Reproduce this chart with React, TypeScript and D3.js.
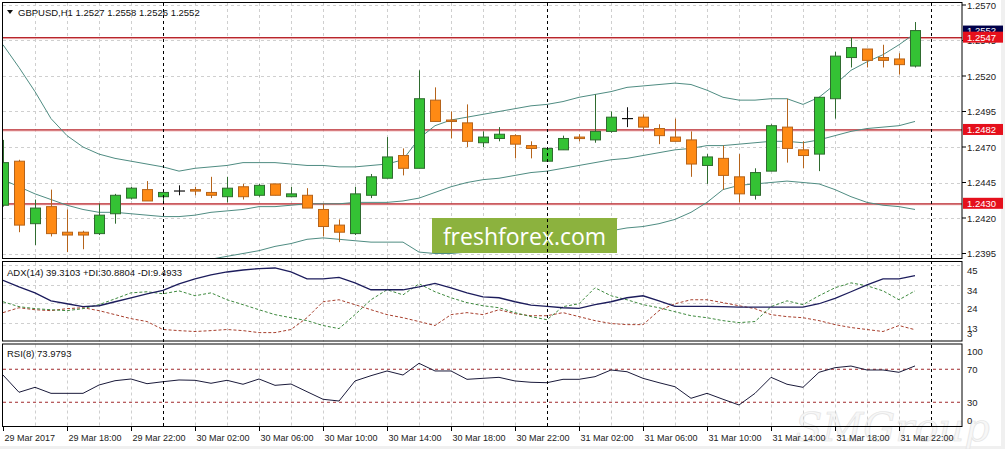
import React from 'react';
import * as d3 from 'd3';

// H1 bars, 29 Mar 2017 14:00 .. 31 Mar 2017 23:00
const opens = [
  1.2429, 1.2460, 1.2416, 1.2428, 1.2410, 1.2410, 1.2409, 1.2423, 1.2434, 1.2440,
  1.2435, 1.2439, 1.2440, 1.2438, 1.2435, 1.2442, 1.2436, 1.2444, 1.2435, 1.2436,
  1.2426, 1.2415, 1.2409, 1.2436, 1.2448, 1.2464, 1.2455, 1.2503, 1.2489, 1.2487,
  1.2473, 1.2476, 1.2478, 1.2471, 1.2460, 1.2468, 1.2477, 1.2475, 1.2481, 1.2490,
  1.2491, 1.2483, 1.2477, 1.2475, 1.2457, 1.2462, 1.2449, 1.2436, 1.2453, 1.2484,
  1.2468, 1.2465, 1.2504, 1.2533, 1.2539, 1.2533, 1.2532, 1.2527,
];
const highs = [
  1.2475, 1.2461, 1.2433, 1.2440, 1.2426, 1.2411, 1.2430, 1.2437, 1.2442, 1.2446,
  1.2438, 1.2443, 1.2442, 1.2449, 1.2449, 1.2444, 1.2444, 1.2444, 1.2442, 1.2441,
  1.2430, 1.2419, 1.2442, 1.2451, 1.2477, 1.2469, 1.2524, 1.2512, 1.2495, 1.2500,
  1.2481, 1.2484, 1.2479, 1.2474, 1.2469, 1.2478, 1.2479, 1.2507, 1.2495, 1.2498,
  1.2493, 1.2486, 1.2490, 1.2481, 1.2465, 1.2471, 1.2465, 1.2455, 1.2486, 1.2504,
  1.2474, 1.2505, 1.2537, 1.2547, 1.2539, 1.2542, 1.2536, 1.2558,
];
const lows = [
  1.2428, 1.2410, 1.2401, 1.2407, 1.2396, 1.2398, 1.2408, 1.2416, 1.2433, 1.2432,
  1.2430, 1.2436, 1.2436, 1.2434, 1.2431, 1.2433, 1.2435, 1.2436, 1.2435, 1.2427,
  1.2407, 1.2403, 1.2408, 1.2434, 1.2448, 1.2450, 1.2455, 1.2488, 1.2476, 1.2470,
  1.2470, 1.2474, 1.2462, 1.2462, 1.2460, 1.2468, 1.2474, 1.2473, 1.2480, 1.2484,
  1.2481, 1.2472, 1.2474, 1.2449, 1.2444, 1.2440, 1.2431, 1.2433, 1.2453, 1.2459,
  1.2455, 1.2453, 1.2490, 1.2526, 1.2526, 1.2526, 1.2521, 1.2526,
];
const closes = [
  1.2459, 1.2415, 1.2427, 1.2409, 1.2408, 1.2408, 1.2422, 1.2436, 1.2441, 1.2432,
  1.2438, 1.2439, 1.2439, 1.2436, 1.2441, 1.2435, 1.2443, 1.2436, 1.2437, 1.2427,
  1.2414, 1.2410, 1.2437, 1.2449, 1.2463, 1.2455, 1.2504, 1.2488, 1.2488, 1.2474,
  1.2477, 1.2479, 1.2472, 1.2469, 1.2469, 1.2476, 1.2476, 1.2481, 1.2491, 1.2490,
  1.2484, 1.2478, 1.2474, 1.2458, 1.2463, 1.2450, 1.2437, 1.2452, 1.2485, 1.2469,
  1.2464, 1.2505, 1.2534, 1.2540, 1.2531, 1.2531, 1.2528, 1.2552,
];

// Bollinger bands
const bbUpper = [
  1.2542, 1.2526, 1.2509, 1.2490, 1.2478, 1.2470, 1.2465, 1.2462, 1.2460, 1.2458,
  1.2456, 1.2453, 1.2455, 1.2456, 1.2457, 1.2459, 1.2459, 1.2459, 1.2458, 1.2457,
  1.2457, 1.2456, 1.2456, 1.2457, 1.2458, 1.2461, 1.2476, 1.2485, 1.2489, 1.2491,
  1.2493, 1.2495, 1.2497, 1.2499, 1.2500, 1.2502, 1.2505, 1.2507, 1.2509, 1.2512,
  1.2513, 1.2514, 1.2515, 1.2514, 1.2510, 1.2505, 1.2503, 1.2503, 1.2504, 1.2504,
  1.2500, 1.2505, 1.2514, 1.2524, 1.2530, 1.2535, 1.2542, 1.2550,
];
const bbMiddle = [
  1.2447, 1.2442, 1.2437, 1.2433, 1.2429, 1.2426, 1.2424, 1.2424, 1.2423, 1.2422,
  1.2421, 1.2421, 1.2422, 1.2424, 1.2425, 1.2426, 1.2428, 1.2428, 1.2429, 1.2430,
  1.2430, 1.2430, 1.2431, 1.2431, 1.2431, 1.2432, 1.2434, 1.2438, 1.2442, 1.2445,
  1.2447, 1.2448, 1.2450, 1.2452, 1.2453, 1.2455, 1.2457, 1.2459, 1.2461, 1.2462,
  1.2464, 1.2466, 1.2468, 1.2469, 1.2471, 1.2471, 1.2472, 1.2473, 1.2474, 1.2474,
  1.2473, 1.2475, 1.2478, 1.2481, 1.2483, 1.2484, 1.2485, 1.2488,
];
const bbLower = [
  1.2352, 1.2358, 1.2365, 1.2376, 1.2380, 1.2382, 1.2383, 1.2385, 1.2386, 1.2386,
  1.2386, 1.2388, 1.2389, 1.2391, 1.2393, 1.2395, 1.2397, 1.2400, 1.2402, 1.2405,
  1.2406, 1.2405, 1.2404, 1.2403, 1.2403, 1.2403, 1.2396, 1.2395, 1.2395, 1.2396,
  1.2397, 1.2397, 1.2399, 1.2400, 1.2402, 1.2405, 1.2407, 1.2409, 1.2411, 1.2413,
  1.2414, 1.2416, 1.2419, 1.2424, 1.2431, 1.2440, 1.2443, 1.2444, 1.2445, 1.2446,
  1.2445, 1.2444, 1.2440, 1.2435, 1.2431, 1.2429, 1.2428, 1.2426,
];

const adx = [
  36.7, 33.1, 29.8, 25.4, 23.8, 22.2, 22.7, 24.9, 27.1, 29.3,
  31.2, 34.8, 37.5, 39.7, 41.3, 42.4, 43.2, 43.5, 41.3, 37.5,
  37.5, 38.3, 35.3, 31.5, 31.5, 31.5, 33.1, 35.0, 32.6, 29.8,
  27.6, 27.1, 24.9, 23.0, 22.4, 21.6, 21.3, 23.3, 24.9, 27.1,
  28.2, 25.4, 22.4, 22.4, 22.4, 22.2, 21.9, 21.9, 21.9, 21.9,
  21.9, 23.8, 26.8, 30.4, 34.2, 37.5, 37.5, 39.3,
];
const plusDi = [
  24.9, 22.2, 21.1, 20.5, 20.0, 21.1, 23.3, 26.5, 29.8, 30.4,
  29.3, 30.9, 28.2, 29.8, 26.0, 23.3, 20.5, 17.8, 16.1, 14.5,
  11.8, 10.1, 17.8, 26.0, 31.5, 28.7, 34.8, 30.4, 27.1, 24.4,
  22.7, 21.6, 18.9, 16.7, 15.0, 22.2, 23.8, 32.6, 28.2, 26.0,
  23.3, 21.6, 19.4, 17.2, 16.1, 14.5, 13.4, 14.0, 22.2, 25.4,
  23.3, 28.2, 32.6, 35.3, 33.7, 30.9, 26.0, 30.9,
];
const minusDi = [
  18.9, 21.6, 20.5, 20.0, 21.1, 21.6, 20.0, 17.8, 15.6, 14.0,
  9.6, 9.0, 8.5, 9.0, 9.6, 9.0, 7.9, 7.9, 9.6, 16.1,
  24.9, 26.0, 23.3, 20.5, 17.8, 16.1, 14.0, 11.8, 17.8, 18.9,
  17.8, 20.5, 18.3, 17.2, 17.2, 18.9, 16.7, 14.5, 12.9, 12.3,
  12.3, 20.0, 23.8, 26.0, 26.0, 24.4, 22.7, 21.1, 17.8, 16.7,
  16.1, 14.5, 12.3, 10.7, 9.6, 8.5, 11.8, 9.5,
];
const rsi = [
  63.0, 42.1, 48.1, 40.8, 40.8, 40.8, 50.9, 56.1, 58.2, 52.5,
  54.9, 57.0, 56.6, 53.0, 56.6, 51.8, 58.2, 50.5, 52.1, 42.8,
  33.6, 31.5, 55.8, 62.2, 67.9, 63.0, 77.2, 67.9, 67.9, 57.8,
  59.0, 60.2, 55.8, 54.2, 53.7, 57.8, 57.8, 61.0, 69.1, 67.0,
  59.0, 53.7, 48.8, 34.8, 40.8, 33.6, 26.7, 40.8, 60.2, 51.8,
  48.1, 66.3, 71.9, 73.9, 69.1, 69.1, 66.3, 74.0,
];

const timeLabels = [
  '29 Mar 2017', '29 Mar 18:00', '29 Mar 22:00', '30 Mar 02:00', '30 Mar 06:00',
  '30 Mar 10:00', '30 Mar 14:00', '30 Mar 18:00', '30 Mar 22:00', '31 Mar 02:00',
  '31 Mar 06:00', '31 Mar 10:00', '31 Mar 14:00', '31 Mar 18:00', '31 Mar 22:00',
];
const labelBars = [0, 4, 8, 12, 16, 20, 24, 28, 32, 36, 40, 44, 48, 52, 56];
const daySeparators = [10, 34, 58];

const priceTicks = [1.2570, 1.2545, 1.2520, 1.2495, 1.2470, 1.2445, 1.2420, 1.2395];
const levelLines = [1.2547, 1.2482, 1.2430];
const bidPrice = 1.2552;
const adxTicks = [45, 34, 24, 13, 3];
const rsiTicks = [100, 70, 30, 0];
const rsiLevels = [70, 30];

const W = 1005;
const H = 449;
const left = 3;
const right = 962;
const main = { top: 3, bottom: 259 };
const adxP = { top: 262, bottom: 341.5 };
const rsiP = { top: 344.5, bottom: 427 };
const font = 'Liberation Sans, Arial, sans-serif';

const x = d3.scaleLinear().domain([0, 58]).range([3, 931]);
const yP = d3.scaleLinear().domain([1.2395, 1.2570]).range([253.5, 5]);
const yA = d3.scaleLinear().domain([3, 46.8]).range([adxP.bottom, adxP.top]);
const yR = d3.scaleLinear().domain([0, 100]).range([rsiP.bottom, rsiP.top]);

const lineOf = (y: d3.ScaleLinear<number, number>) =>
  d3.line<number>().x((_, i) => x(i)).y((d) => y(d));

const App = () => {
  const gridBars = d3.range(2, 60, 2).filter((i) => !daySeparators.includes(i));
  const bandLine = lineOf(yP);
  const adxLine = lineOf(yA);
  const rsiLine = lineOf(yR);

  return (
    <svg width={W} height={H} style={{ position: 'absolute', left: 0, top: 0 }} fontFamily={font}>
      <defs>
        <clipPath id="clipMain"><rect x={left} y={main.top} width={right - left} height={main.bottom - main.top} /></clipPath>
        <clipPath id="clipAdx"><rect x={left} y={adxP.top} width={right - left} height={adxP.bottom - adxP.top} /></clipPath>
        <clipPath id="clipRsi"><rect x={left} y={rsiP.top} width={right - left} height={rsiP.bottom - rsiP.top} /></clipPath>
      </defs>
      <rect width={W} height={H} fill="#f0f0f0" />
      <rect width={1001} height={446} fill="#ffffff" />

      {/* faint watermark behind the lower panel */}
      <text x={795} y={441} fontSize={40} fontStyle="italic" fontFamily="DejaVu Serif, serif" fill="#f7f7f7" stroke="#e4e4e4" strokeWidth={0.7}>SMGroup</text>

      {/* grid */}
      {[main, adxP, rsiP].map((p, k) => (
        <g key={k} stroke="#cfcfcf" strokeDasharray="3,3" strokeWidth={1}>
          {gridBars.map((i) => (
            <line key={i} x1={x(i) + 0.5} x2={x(i) + 0.5} y1={p.top} y2={p.bottom} />
          ))}
        </g>
      ))}
      <g stroke="#cfcfcf" strokeDasharray="3,3">
        {priceTicks.map((p) => (
          <line key={p} x1={left} x2={right} y1={Math.round(yP(p)) + 0.5} y2={Math.round(yP(p)) + 0.5} />
        ))}
        {adxTicks.slice(0, 4).map((v) => (
          <line key={v} x1={left} x2={right} y1={Math.round(yA(v)) + 0.5} y2={Math.round(yA(v)) + 0.5} />
        ))}
      </g>

      {/* main chart */}
      <g clipPath="url(#clipMain)">
        {levelLines.map((p) => (
          <g key={p}>
            <line x1={left} x2={right} y1={yP(p) + 1} y2={yP(p) + 1} stroke="#f2b8b8" strokeWidth={1} />
            <line x1={left} x2={right} y1={yP(p)} y2={yP(p)} stroke="#b8262c" strokeWidth={1.2} />
          </g>
        ))}
        {[bbUpper, bbMiddle, bbLower].map((s, k) => (
          <path key={k} d={bandLine(s) || ''} fill="none" stroke="#4f8c82" strokeWidth={1} />
        ))}
        {opens.map((o, i) => {
          const c = closes[i];
          const cx = x(i);
          const up = c > o;
          const doji = c === o;
          const wick = doji ? '#111' : up ? '#2f6b2f' : '#b5631a';
          const top = yP(Math.max(o, c));
          const bot = yP(Math.min(o, c));
          return (
            <g key={i}>
              <line x1={cx + 0.5} x2={cx + 0.5} y1={yP(highs[i])} y2={yP(lows[i])} stroke={wick} strokeWidth={1} />
              {doji ? (
                <line x1={cx - 5} x2={cx + 6} y1={top} y2={top} stroke="#111" strokeWidth={1.2} />
              ) : (
                <rect x={cx - 4.5} y={top} width={10} height={Math.max(bot - top, 1.5)}
                  fill={up ? '#34c234' : '#ff8a14'} stroke={up ? '#2f6b2f' : '#b5631a'} strokeWidth={1} />
              )}
            </g>
          );
        })}
      </g>

      {/* watermark */}
      <rect x={432} y={218} width={185} height={35} fill="#8cb23e" />
      <text x={524.5} y={245} textAnchor="middle" fill="#ffffff" fontSize={23} fontFamily="Open Sans, sans-serif">freshforex.com</text>

      {/* ADX */}
      <g clipPath="url(#clipAdx)" fill="none">
        <path d={adxLine(minusDi) || ''} stroke="#a8402e" strokeWidth={1} strokeDasharray="3,2" />
        <path d={adxLine(plusDi) || ''} stroke="#3f8a3f" strokeWidth={1} strokeDasharray="3,2" />
        <path d={adxLine(adx) || ''} stroke="#1c1c5c" strokeWidth={1.3} />
      </g>

      {/* RSI */}
      <g clipPath="url(#clipRsi)" fill="none">
        {rsiLevels.map((v) => (
          <line key={v} x1={left} x2={right} y1={yR(v)} y2={yR(v)} stroke="#a0282c" strokeDasharray="3,3" />
        ))}
        <path d={rsiLine(rsi) || ''} stroke="#1a1a3a" strokeWidth={1} />
      </g>

      {/* day separators */}
      {daySeparators.map((i) => (
        <line key={i} x1={x(i) + 0.5} x2={x(i) + 0.5} y1={main.top} y2={rsiP.bottom} stroke="#000" strokeDasharray="3,3" />
      ))}

      {/* frames */}
      <g fill="none" stroke="#000" strokeWidth={1}>
        {[main, adxP, rsiP].map((p, k) => (
          <rect key={k} x={left - 0.5} y={p.top - 0.5} width={right - left + 0.5} height={p.bottom - p.top} />
        ))}
      </g>

      {/* price axis */}
      <g fontSize={9.5} fill="#222">
        {priceTicks.map((p) => (
          <g key={p}>
            <line x1={right} x2={right + 4} y1={yP(p)} y2={yP(p)} stroke="#000" />
            <text x={967} y={yP(p)} dominantBaseline="central">{p.toFixed(4)}</text>
          </g>
        ))}
        <rect x={963} y={yP(bidPrice) - 5} width={40} height={10.5} fill="#00004a" />
        <text x={967} y={yP(bidPrice)} dominantBaseline="central" fill="#fff">{bidPrice.toFixed(4)}</text>
        {levelLines.map((p) => (
          <g key={p}>
            <rect x={963} y={yP(p) - 6} width={40} height={11} fill="#e5101c" />
            <text x={967} y={yP(p) - 0.5} dominantBaseline="central" fill="#fff">{p.toFixed(4)}</text>
          </g>
        ))}
        {adxTicks.map((v) => (
          <text key={v} x={967} y={Math.min(yA(v) + 5, adxP.bottom - 8)} dominantBaseline="central">{v}</text>
        ))}
        {rsiTicks.map((v) => (
          <text key={v} x={967} y={Math.max(Math.min(yR(v), rsiP.bottom - 7), rsiP.top + 6.5)} dominantBaseline="central">{v}</text>
        ))}
      </g>

      {/* time axis */}
      <g fontSize={9} fill="#222">
        {labelBars.map((b, k) => (
          <g key={b}>
            <line x1={x(b) + 0.5} x2={x(b) + 0.5} y1={rsiP.bottom} y2={rsiP.bottom + 4} stroke="#000" />
            <text x={x(b) + 1.5} y={440.5}>{timeLabels[k]}</text>
          </g>
        ))}
      </g>

      {/* panel captions */}
      <polygon points="7,10 13,10 10,14" fill="#111" />
      <text x={18} y={15.5} fontSize={9.5} fill="#111">GBPUSD,H1  1.2527 1.2558 1.2526 1.2552</text>
      <text x={7} y={275.5} fontSize={9.5} fill="#111">ADX(14) 39.3103 +DI:30.8804 -DI:9.4933</text>
      <text x={7} y={356.5} fontSize={9.5} fill="#111">RSI(8) 73.9793</text>
    </svg>
  );
};

export default App;
